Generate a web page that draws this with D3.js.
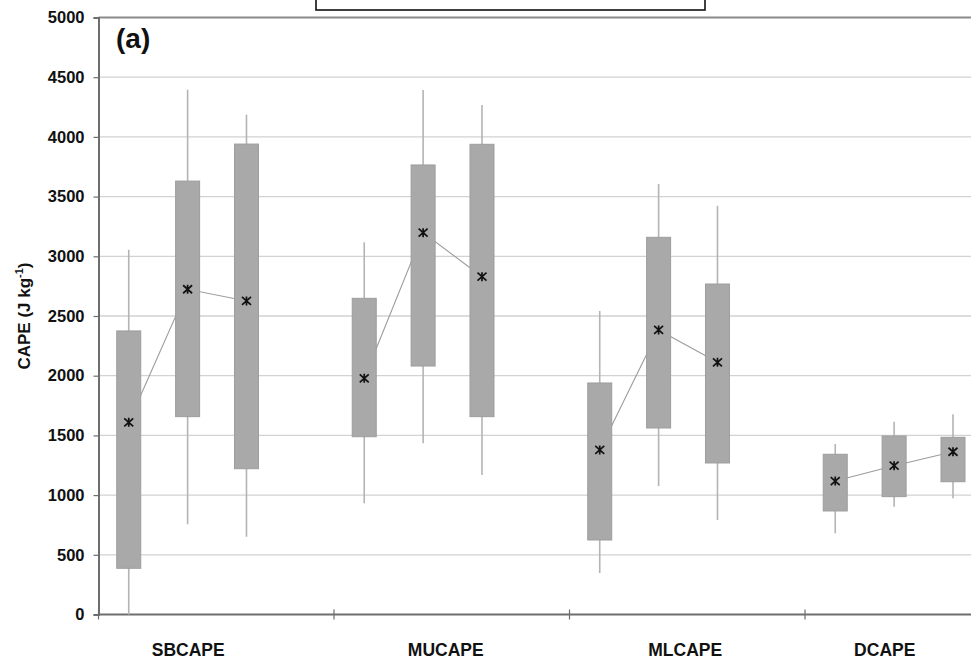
<!DOCTYPE html>
<html><head><meta charset="utf-8">
<script src="https://cdn.jsdelivr.net/npm/d3@7/dist/d3.min.js"></script>
<style>
html,body{margin:0;padding:0;background:#fff;}
text{font-family:"Liberation Sans",Arial,sans-serif;font-weight:bold;fill:#111;}
</style></head>
<body><svg id="c" width="971" height="658"></svg>
<script>
const categories = ["SBCAPE","MUCAPE","MLCAPE","DCAPE"];
const yTicks = [0,500,1000,1500,2000,2500,3000,3500,4000,4500,5000];
// three boxes per category (values in J kg-1)
const s1Min  = [0, 931, 348, 680];
const s1Q1   = [387, 1489, 624, 867];
const s1Mean = [1610, 1978, 1378, 1118];
const s1Q3   = [2375, 2648, 1939, 1342];
const s1Max  = [3055, 3117, 2542, 1428];

const s2Min  = [755, 1434, 1076, 903];
const s2Q1   = [1657, 2081, 1562, 987];
const s2Mean = [2724, 3198, 2383, 1246];
const s2Q3   = [3630, 3765, 3159, 1495];
const s2Max  = [4395, 4393, 3606, 1615];

const s3Min  = [652, 1168, 791, 973];
const s3Q1   = [1221, 1657, 1269, 1112];
const s3Mean = [2626, 2829, 2112, 1363];
const s3Q3   = [3940, 3938, 2768, 1484];
const s3Max  = [4185, 4267, 3424, 1677];

const series = [
  {min:s1Min,q1:s1Q1,mean:s1Mean,q3:s1Q3,max:s1Max},
  {min:s2Min,q1:s2Q1,mean:s2Mean,q3:s2Q3,max:s2Max},
  {min:s3Min,q1:s3Q1,mean:s3Mean,q3:s3Q3,max:s3Max}
];

const svg = d3.select("#c");
const mLeft = 98.5, mTop = 17.5, mBottom = 614.5, catW = 235.5;
const x0 = d3.scaleBand().domain(categories).range([mLeft, mLeft + catW*categories.length]).padding(0);
const x1 = d3.scaleBand().domain([0,1,2,3]).range([0, x0.bandwidth()]).padding(0);
const y = d3.scaleLinear().domain([0,5000]).range([mBottom, mTop]);
const cx = (c,i) => x0(c) + x1(i) + x1.bandwidth()/2 + 0.8;
const boxW = 24;

// legend-like box at top (cropped)
svg.append("rect").attr("x",316).attr("y",-4).attr("width",389).attr("height",14)
  .attr("fill","#fff").attr("stroke","#111").attr("stroke-width",1.6);

// gridlines
svg.append("g").selectAll("line").data(yTicks.filter(d=>d>0 && d<5000)).join("line")
  .attr("x1",mLeft).attr("x2",971).attr("y1",d=>y(d)).attr("y2",d=>y(d))
  .attr("stroke","#d2d2d2").attr("stroke-width",1.3);
// top border
svg.append("line").attr("x1",mLeft).attr("x2",971).attr("y1",y(5000)).attr("y2",y(5000))
  .attr("stroke","#8a8a8a").attr("stroke-width",2);

// y axis
const yAxis = d3.axisLeft(y).tickValues(yTicks).tickSize(5).tickPadding(9).tickFormat(d3.format("d"));
const gy = svg.append("g").attr("transform",`translate(${mLeft},0)`).call(yAxis);
gy.select(".domain").attr("stroke","#6e6e6e").attr("stroke-width",2);
gy.selectAll(".tick line").attr("stroke","#6e6e6e").attr("stroke-width",1.2);
gy.selectAll(".tick text").attr("font-size",16.5).attr("font-family","Liberation Sans, Arial, sans-serif").attr("font-weight","bold").attr("fill","#111");

// x axis
const gx = svg.append("g").attr("transform",`translate(0,${mBottom})`);
gx.append("line").attr("x1",mLeft).attr("x2",971).attr("stroke","#6e6e6e").attr("stroke-width",2);
gx.selectAll("line.t").data(categories).join("line").attr("class","t")
  .attr("x1",d=>x0(d)).attr("x2",d=>x0(d)).attr("y1",-5).attr("y2",5)
  .attr("stroke","#6e6e6e").attr("stroke-width",1.2);
const labelDx = [-28,-6,-2,-38];
gx.selectAll("text").data(categories).join("text")
  .attr("x",(d,i)=>x0(d)+x0.bandwidth()/2+labelDx[i]).attr("y",41)
  .attr("text-anchor","middle").attr("font-size",17.5).text(d=>d);

// y title
svg.append("text").attr("transform","translate(30,316) rotate(-90)")
  .attr("text-anchor","middle").attr("font-size",17)
  .html('CAPE (J kg<tspan dy="-7" font-size="11">-1</tspan><tspan dy="7">)</tspan>');

// (a)
svg.append("text").attr("x",116).attr("y",48).attr("font-size",28).text("(a)");

const g = svg.append("g");
// mean connecting lines (behind)
categories.forEach((c,ci)=>{
  const pts = series.map((s,i)=>[cx(c,i), y(s.mean[ci])]);
  g.append("path").attr("d",d3.line()(pts)).attr("fill","none")
   .attr("stroke","#9c9c9c").attr("stroke-width",1.1);
});
// whiskers
series.forEach((s,i)=>{
  g.append("g").selectAll("line").data(categories).join("line")
   .attr("x1",(c)=>cx(c,i)).attr("x2",(c)=>cx(c,i))
   .attr("y1",(c,ci)=>y(s.min[ci])).attr("y2",(c,ci)=>y(s.max[ci]))
   .attr("stroke","#b4b4b4").attr("stroke-width",1.6);
});
// boxes
series.forEach((s,i)=>{
  g.append("g").selectAll("rect").data(categories).join("rect")
   .attr("x",(c)=>cx(c,i)-boxW/2).attr("width",boxW)
   .attr("y",(c,ci)=>y(s.q3[ci])).attr("height",(c,ci)=>y(s.q1[ci])-y(s.q3[ci]))
   .attr("fill","#a9a9a9").attr("stroke","#9d9d9d").attr("stroke-width",1);
});
// mean markers (star)
series.forEach((s,i)=>{
  const m = g.append("g").selectAll("g").data(categories).join("g")
   .attr("transform",(c,ci)=>`translate(${cx(c,i)},${y(s.mean[ci])})`);
  m.append("path").attr("d","M-4.5,-4L4.5,4M-4.5,4L4.5,-4M0,-4.5V4.5")
   .attr("stroke","#111").attr("stroke-width",1.7).attr("fill","none");
});
</script></body></html>
